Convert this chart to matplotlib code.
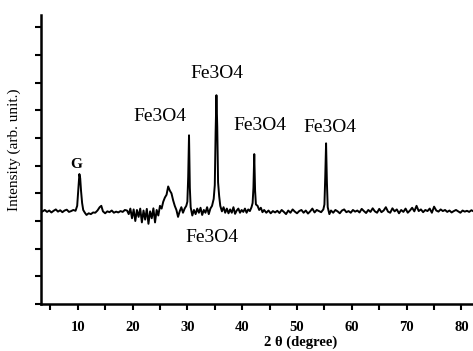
import matplotlib
matplotlib.use("Agg")
import matplotlib.pyplot as plt
from matplotlib.ticker import MultipleLocator

# XRD trace (2theta in degrees, intensity in arb. units)
two_theta = [
    3.6, 4.0, 4.4, 4.8, 5.2, 5.6, 6.0, 6.4, 6.8, 7.2,
    7.6, 8.0, 8.4, 8.8, 9.2, 9.6, 9.9, 10.1, 10.3, 10.45,
    10.6, 10.8, 11.0, 11.3, 11.6, 12.0, 12.4, 12.8, 13.2, 13.6,
    14.0, 14.3, 14.6, 15.0, 15.4, 15.8, 16.2, 16.6, 17.0, 17.4,
    17.8, 18.2, 18.6, 19.0, 19.3, 19.6, 19.9, 20.2, 20.5, 20.8,
    21.1, 21.4, 21.7, 22.0, 22.3, 22.6, 22.9, 23.2, 23.5, 23.8,
    24.1, 24.4, 24.7, 25.0, 25.3, 25.6, 25.9, 26.2, 26.5, 26.8,
    27.1, 27.4, 27.7, 28.0, 28.3, 28.6, 28.9, 29.2, 29.5, 29.8,
    30.0, 30.15, 30.3, 30.45, 30.6, 30.9, 31.2, 31.5, 31.8, 32.1,
    32.4, 32.7, 33.0, 33.3, 33.6, 33.9, 34.2, 34.5, 34.8, 35.0,
    35.15, 35.3, 35.45, 35.6, 35.8, 36.0, 36.3, 36.6, 36.9, 37.2,
    37.5, 37.8, 38.1, 38.4, 38.7, 39.0, 39.3, 39.6, 39.9, 40.2,
    40.5, 40.8, 41.1, 41.4, 41.7, 41.9, 42.05, 42.2, 42.35, 42.5,
    42.8, 43.1, 43.4, 43.7, 44.0, 44.4, 44.8, 45.2, 45.6, 46.0,
    46.4, 46.8, 47.2, 47.6, 48.0, 48.4, 48.8, 49.2, 49.6, 50.0,
    50.4, 50.8, 51.2, 51.6, 52.0, 52.4, 52.8, 53.2, 53.6, 54.0,
    54.4, 54.8, 55.0, 55.15, 55.3, 55.45, 55.6, 55.9, 56.2, 56.6,
    57.0, 57.4, 57.8, 58.2, 58.6, 59.0, 59.4, 59.8, 60.2, 60.6,
    61.0, 61.4, 61.8, 62.2, 62.6, 63.0, 63.4, 63.8, 64.2, 64.6,
    65.0, 65.4, 65.8, 66.2, 66.6, 67.0, 67.4, 67.8, 68.2, 68.6,
    69.0, 69.4, 69.8, 70.2, 70.6, 71.0, 71.4, 71.8, 72.2, 72.6,
    73.0, 73.4, 73.8, 74.2, 74.6, 75.0, 75.4, 75.8, 76.2, 76.6,
    77.0, 77.4, 77.8, 78.2, 78.6, 79.0, 79.4, 79.8, 80.2, 80.6,
    81.0, 81.4, 81.8, 82.2,
]
intensity = [
    3.35, 3.40, 3.33, 3.38, 3.31, 3.37, 3.42, 3.34, 3.39, 3.32,
    3.38, 3.41, 3.33, 3.36, 3.40, 3.37, 3.55, 4.10, 4.70, 4.55,
    4.10, 3.65, 3.40, 3.30, 3.22, 3.28, 3.25, 3.31, 3.30, 3.38,
    3.50, 3.55, 3.35, 3.28, 3.35, 3.32, 3.38, 3.30, 3.34, 3.31,
    3.36, 3.33, 3.40, 3.38, 3.25, 3.45, 3.10, 3.42, 3.00, 3.40,
    3.15, 3.45, 2.95, 3.38, 3.05, 3.44, 2.90, 3.35, 3.10, 3.46,
    2.95, 3.40, 3.20, 3.55, 3.45, 3.70, 3.85, 3.95, 4.25, 4.10,
    4.00, 3.75, 3.55, 3.40, 3.15, 3.35, 3.50, 3.30, 3.45, 3.55,
    3.70, 4.60, 6.10, 4.20, 3.50, 3.20, 3.40, 3.25, 3.45, 3.30,
    3.48, 3.22, 3.40, 3.30, 3.50, 3.25, 3.45, 3.55, 3.80, 4.30,
    6.20, 7.55, 6.40, 4.40, 3.90, 3.55, 3.35, 3.50, 3.30, 3.45,
    3.28, 3.42, 3.30, 3.50, 3.26, 3.38, 3.45, 3.30, 3.40, 3.33,
    3.45, 3.30, 3.42, 3.36, 3.50, 3.65, 4.20, 5.42, 4.10, 3.60,
    3.55, 3.40, 3.48, 3.32, 3.40, 3.30, 3.38, 3.28, 3.36, 3.31,
    3.37, 3.29, 3.40, 3.33, 3.25, 3.38, 3.30, 3.42, 3.34, 3.28,
    3.36, 3.40, 3.30, 3.38, 3.27, 3.35, 3.45, 3.31, 3.40, 3.36,
    3.32, 3.42, 3.60, 4.60, 5.81, 4.40, 3.50, 3.25, 3.38, 3.30,
    3.40, 3.35, 3.28, 3.38, 3.42, 3.32, 3.36, 3.30, 3.40, 3.34,
    3.38, 3.31, 3.44, 3.36, 3.29, 3.40, 3.33, 3.46, 3.35, 3.30,
    3.44, 3.32, 3.38, 3.50, 3.34, 3.30, 3.46, 3.35, 3.42, 3.28,
    3.40, 3.33, 3.45, 3.30, 3.38, 3.48, 3.35, 3.55, 3.36, 3.42,
    3.32, 3.40, 3.36, 3.45, 3.30, 3.52, 3.38, 3.34, 3.42, 3.36,
    3.40, 3.33, 3.38, 3.31, 3.36, 3.40, 3.35, 3.30, 3.38, 3.34,
    3.37, 3.33, 3.39, 3.35,
]

# peak annotations: label, 2theta, height
peak_labels = ["G", "Fe3O4", "Fe3O4", "Fe3O4", "Fe3O4", "Fe3O4"]
label_x = [9.65, 25.0, 35.4, 43.25, 56.0, 34.5]
label_y = [5.05, 6.79, 8.34, 6.46, 6.39, 2.42]

x_ticks = [10, 20, 30, 40, 50, 60, 70, 80]

serif = ["Liberation Serif", "DejaVu Serif"]

fig = plt.figure(figsize=(4.73, 3.51), dpi=100)
ax = fig.add_axes([41 / 473, 47 / 351, 432 / 473, 289 / 351])

ax.plot(two_theta, intensity, color="black", linewidth=1.4)

for lab, lx, ly in zip(peak_labels, label_x, label_y):
    if lab == "G":
        ax.text(lx, ly, lab, ha="center", va="center", family=serif,
                fontsize=11, fontweight="bold")
    else:
        ax.text(lx, ly, lab, ha="center", va="center", family=serif,
                fontsize=14)

ax.set_xlim(3.3, 82.1)
ax.set_ylim(0, 10.45)
ax.set_xticks(x_ticks)
ax.set_xticklabels([str(t) for t in x_ticks], family=serif,
                   fontsize=10.5, fontweight="bold")
ax.xaxis.set_minor_locator(MultipleLocator(5))
ax.yaxis.set_major_locator(MultipleLocator(1))
ax.set_yticklabels([])
ax.tick_params(axis="both", which="both", direction="out", length=4,
               width=1.5, color="black")
ax.tick_params(axis="x", pad=8)

for side in ["top", "right"]:
    ax.spines[side].set_visible(False)
for side in ["left", "bottom"]:
    ax.spines[side].set_linewidth(1.8)

ax.set_xlabel("2 θ (degree)", family=serif, fontsize=10.5, fontweight="bold")
ax.xaxis.set_label_coords(0.6, -0.11)
ax.set_ylabel("Intensity (arb. unit.)", family=serif, fontsize=11)
ax.yaxis.set_label_coords(-0.046, 0.533)

fig.savefig("out.png", dpi=100)
